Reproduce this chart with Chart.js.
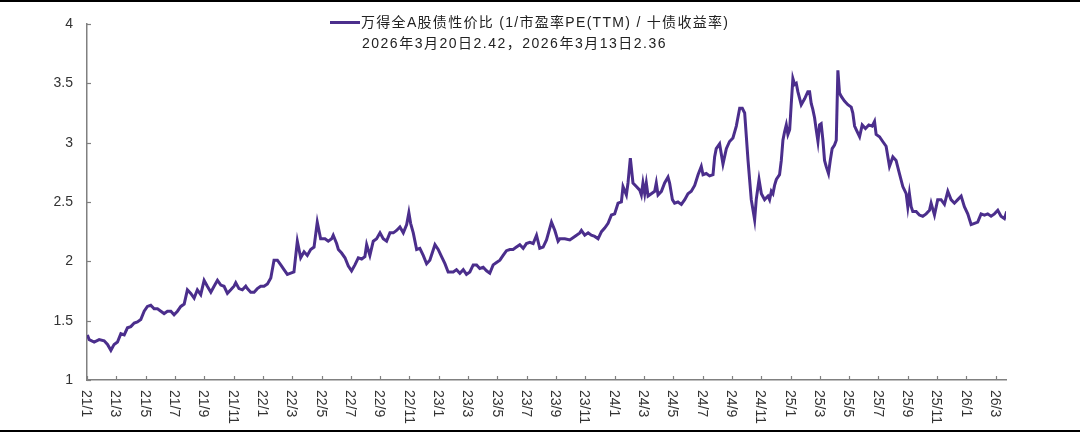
<!DOCTYPE html>
<html>
<head>
<meta charset="utf-8">
<script src="https://cdn.jsdelivr.net/npm/chart.js@4.4.0/dist/chart.umd.min.js"></script>
<style>
  html, body { margin:0; padding:0; background:#fff; }
  #wrap { width:1080px; height:433px; }
</style>
</head>
<body>
<div id="wrap"><canvas id="c" width="1080" height="433"></canvas></div>
<script>
// months since 2021-01-01
const months = [
  0.03,0.15,0.49,0.83,1.17,1.40,1.63,1.85,2.08,2.31,2.54,2.76,2.99,3.22,3.44,3.67,3.90,4.12,4.35,4.58,
  4.81,5.04,5.26,5.49,5.72,5.94,6.17,6.40,6.63,6.85,7.08,7.31,7.53,7.76,7.99,8.21,8.45,8.67,8.90,9.13,
  9.35,9.58,9.81,10.03,10.15,10.37,10.60,10.83,10.94,11.17,11.40,11.62,11.85,12.08,12.31,12.54,12.76,12.99,13.22,13.44,
  13.67,13.90,14.12,14.35,14.58,14.81,15.03,15.26,15.49,15.71,15.94,16.24,16.46,16.69,16.80,17.03,17.15,17.37,17.60,17.83,
  18.05,18.28,18.51,18.74,18.96,19.08,19.30,19.53,19.76,19.99,20.21,20.44,20.67,20.90,21.12,21.35,21.58,21.81,21.96,22.08,
  22.26,22.49,22.71,22.94,23.17,23.39,23.74,23.96,24.19,24.42,24.64,24.99,25.21,25.44,25.67,25.89,26.12,26.35,26.58,26.80,
  27.03,27.26,27.48,27.71,27.94,28.17,28.39,28.62,28.85,29.07,29.30,29.53,29.76,29.98,30.21,30.44,30.67,30.89,31.12,31.35,
  31.69,31.92,32.14,32.26,32.60,32.94,33.28,33.62,33.73,33.96,34.19,34.41,34.64,34.87,35.10,35.32,35.55,35.78,36.00,36.23,
  36.46,36.57,36.80,36.91,37.07,37.25,37.48,37.71,37.82,37.93,38.05,38.16,38.28,38.50,38.73,38.84,38.96,39.19,39.41,39.64,
  39.75,39.94,40.09,40.32,40.55,40.78,41.00,41.23,41.46,41.69,41.91,42.03,42.25,42.48,42.71,42.82,42.93,43.16,43.39,43.62,
  43.84,44.07,44.30,44.53,44.71,44.87,45.10,45.32,45.55,45.66,45.85,46.01,46.23,46.46,46.57,46.69,46.80,46.91,47.03,47.25,
  47.37,47.48,47.59,47.71,47.82,47.94,48.05,48.16,48.28,48.39,48.50,48.73,48.96,49.18,49.30,49.41,49.52,49.64,49.75,49.87,
  49.98,50.09,50.21,50.32,50.43,50.59,50.71,50.84,51.00,51.12,51.23,51.34,51.46,51.68,51.91,52.14,52.25,52.37,52.48,52.71,
  52.89,53.11,53.34,53.57,53.73,53.84,54.07,54.29,54.52,54.75,54.98,55.20,55.43,55.66,55.89,56.00,56.11,56.23,56.34,56.57,
  56.79,57.02,57.25,57.48,57.59,57.82,58.04,58.27,58.50,58.73,58.95,59.18,59.41,59.64,59.86,60.09,60.32,60.55,60.77,61.00,
  61.23,61.45,61.68,61.91,62.14,62.36,62.59,62.75
];
const values = [
  1.38,1.34,1.32,1.34,1.33,1.30,1.25,1.30,1.32,1.39,1.38,1.44,1.45,1.48,1.49,1.51,1.58,1.62,1.63,1.60,
  1.60,1.58,1.56,1.58,1.58,1.55,1.58,1.62,1.64,1.76,1.73,1.69,1.76,1.72,1.84,1.79,1.74,1.79,1.84,1.80,
  1.79,1.73,1.76,1.79,1.82,1.77,1.76,1.79,1.77,1.74,1.74,1.77,1.79,1.79,1.81,1.86,2.01,2.01,1.97,1.93,
  1.89,1.90,1.91,2.17,2.03,2.08,2.05,2.10,2.12,2.33,2.19,2.19,2.17,2.19,2.22,2.15,2.10,2.07,2.03,1.96,
  1.92,1.97,2.03,2.02,2.04,2.14,2.05,2.17,2.19,2.24,2.19,2.17,2.24,2.24,2.26,2.29,2.24,2.31,2.41,2.32,
  2.24,2.10,2.11,2.05,1.98,2.01,2.14,2.10,2.04,1.98,1.91,1.91,1.93,1.90,1.93,1.89,1.91,1.97,1.97,1.94,
  1.95,1.92,1.90,1.97,1.99,2.01,2.05,2.09,2.10,2.10,2.12,2.14,2.11,2.15,2.16,2.15,2.22,2.11,2.12,2.18,
  2.33,2.26,2.17,2.19,2.19,2.18,2.21,2.24,2.26,2.22,2.24,2.22,2.21,2.19,2.25,2.28,2.32,2.39,2.40,2.49,
  2.50,2.63,2.56,2.66,2.87,2.66,2.63,2.60,2.56,2.66,2.57,2.66,2.55,2.57,2.59,2.66,2.56,2.59,2.66,2.71,
  2.66,2.52,2.49,2.50,2.48,2.52,2.57,2.59,2.64,2.73,2.80,2.73,2.74,2.72,2.73,2.88,2.95,2.99,2.82,2.95,
  3.01,3.04,3.14,3.29,3.29,3.25,2.85,2.52,2.35,2.52,2.69,2.57,2.52,2.55,2.52,2.59,2.57,2.64,2.69,2.73,
  2.85,3.02,3.09,3.15,3.07,3.11,3.33,3.54,3.49,3.50,3.43,3.32,3.37,3.43,3.43,3.33,3.28,3.21,3.11,3.01,
  3.15,3.16,3.02,2.85,2.80,2.74,2.85,2.95,2.98,3.02,3.61,3.42,3.39,3.35,3.32,3.30,3.25,3.14,3.11,3.05,
  3.15,3.12,3.15,3.14,3.18,3.07,3.05,3.01,2.97,2.80,2.88,2.85,2.74,2.63,2.57,2.46,2.57,2.46,2.42,2.42,
  2.39,2.38,2.40,2.43,2.49,2.39,2.52,2.52,2.48,2.59,2.52,2.49,2.52,2.55,2.46,2.40,2.31,2.32,2.33,2.40,
  2.39,2.40,2.38,2.40,2.43,2.38,2.36,2.42
];
const seriesName = '万得全A股债性价比 (1/市盈率PE(TTM) / 十债收益率)';
const noteText = '2026年3月20日2.42，2026年3月13日2.36';
const yMin = 1, yMax = 4, yStep = 0.5;
const xMin = 0, xMax = 62.7, xStep = 2;

const lineColor = '#4b2e8c';
const axisColor = '#808080';
const textColor = '#333333';

function monthLabel(v){
  return (21 + Math.floor(v / 12)) + '/' + (v % 12 + 1);
}

const decor = {
  id: 'decor',
  afterDraw(chart){
    const ctx = chart.ctx, xs = chart.scales.x, ys = chart.scales.y, a = chart.chartArea;
    ctx.save();
    // frame lines
    ctx.fillStyle = '#000';
    ctx.fillRect(0, 0, chart.width, 2);
    ctx.fillRect(0, 430, chart.width, 2);

    // inward tick marks
    ctx.strokeStyle = axisColor;
    ctx.lineWidth = 1.2;
    ys.ticks.forEach(t => {
      const py = Math.round(ys.getPixelForValue(t.value)) + 0.5;
      ctx.beginPath(); ctx.moveTo(a.left, py); ctx.lineTo(a.left + 4, py); ctx.stroke();
    });
    xs.ticks.forEach(t => {
      const px = Math.round(xs.getPixelForValue(t.value)) + 0.5;
      ctx.beginPath(); ctx.moveTo(px, a.bottom); ctx.lineTo(px, a.bottom - 4); ctx.stroke();
    });

    // x labels rotated clockwise
    ctx.fillStyle = textColor;
    ctx.font = '14px "Liberation Sans", Arial, sans-serif';
    ctx.textAlign = 'left';
    ctx.textBaseline = 'middle';
    xs.ticks.forEach(t => {
      const px = xs.getPixelForValue(t.value) - 1;
      ctx.save();
      ctx.translate(px, a.bottom + 10);
      ctx.rotate(Math.PI / 2);
      ctx.fillText(monthLabel(t.value), 0, 0);
      ctx.restore();
    });

    // legend
    ctx.strokeStyle = lineColor;
    ctx.lineWidth = 3;
    ctx.beginPath(); ctx.moveTo(330, 22.5); ctx.lineTo(360, 22.5); ctx.stroke();
    ctx.font = '14px "Liberation Sans", "Noto Sans CJK SC", sans-serif';
    ctx.fillStyle = '#222';
    ctx.letterSpacing = '1.3px';
    ctx.fillText(seriesName, 361, 23);
    ctx.letterSpacing = '1.5px';
    ctx.fillText(noteText, 362, 44);
    ctx.restore();
  }
};

new Chart(document.getElementById('c'), {
  type: 'line',
  data: {
    datasets: [{
      label: seriesName,
      data: months.map((m, i) => ({ x: m, y: values[i] })),
      borderColor: lineColor,
      borderWidth: 3,
      pointRadius: 0,
      tension: 0,
      fill: false
    }]
  },
  options: {
    responsive: false,
    animation: false,
    layout: { padding: { top: 24, right: 74, left: 0, bottom: 0 } },
    plugins: { legend: { display: false }, tooltip: { enabled: false } },
    scales: {
      x: {
        type: 'linear', min: xMin, max: xMax,
        ticks: { stepSize: xStep, includeBounds: false, display: false },
        grid: { display: true, drawOnChartArea: false, drawTicks: false },
        border: { display: true, color: axisColor, width: 1.5 },
        afterFit: s => { s.height = 53; }
      },
      y: {
        min: yMin, max: yMax,
        ticks: {
          stepSize: yStep, padding: 14, color: textColor,
          font: { size: 14, family: '"Liberation Sans", Arial, sans-serif' },
          callback: v => String(v)
        },
        grid: { display: true, drawOnChartArea: false, drawTicks: false },
        border: { display: true, color: axisColor, width: 1.5 },
        afterFit: s => { s.width = 87; }
      }
    }
  },
  plugins: [decor]
});
</script>
</body>
</html>
